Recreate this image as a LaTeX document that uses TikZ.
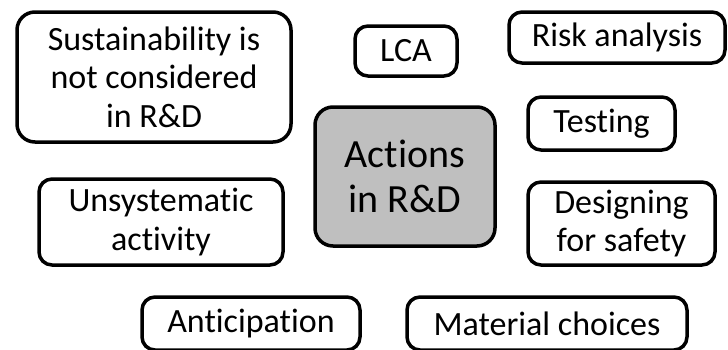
\documentclass[tikz,border=0pt]{standalone}
\usepackage{fontspec}
\setmainfont{Carlito}[RawFeature={-liga;-clig;-dlig}]
\begin{document}
\begin{tikzpicture}[x=1pt,y=-1pt,
  box/.style={draw=black, line width=3.5pt, rounded corners=13pt, fill=white,
    inner sep=0pt, align=center, text=black,
    font=\fontsize{34}{38.5}\selectfont},
  hub/.style={box, fill=hubgray, rounded corners=18pt,
    font=\fontsize{40}{45}\selectfont}]
\definecolor{hubgray}{RGB}{191,191,191}
\useasboundingbox (0,0) rectangle (728,349);
\clip (0,0) rectangle (728,349);
\node[box, minimum width=274pt, minimum height=130pt, rounded corners=18pt] (sust) at (154,77) {Sustainability is\\not considered\\in R\&D};
\node[box, minimum width=102pt, minimum height=50pt] (lca) at (406,51) {LCA};
\node[box, minimum width=216pt, minimum height=51pt] (risk) at (617,37.5) {Risk analysis};
\node[box, minimum width=147pt, minimum height=53pt] (test) at (601.5,123.5) {Testing};
\node[hub, minimum width=180pt, minimum height=139pt] (act) at (405,176.5) {Actions\\in R\&D};
\node[box, minimum width=244pt, minimum height=86pt] (unsys) at (161,222) {Unsystematic\\activity};
\node[box, minimum width=187pt, minimum height=83pt] (des) at (621.5,223.5) {Designing\\for safety};
\node[box, minimum width=218pt, minimum height=53pt] (anti) at (251,323.5) {Anticipation};
\node[box, minimum width=280pt, minimum height=53pt] (mat) at (547,323.5) {Material choices};
\end{tikzpicture}
\end{document}
